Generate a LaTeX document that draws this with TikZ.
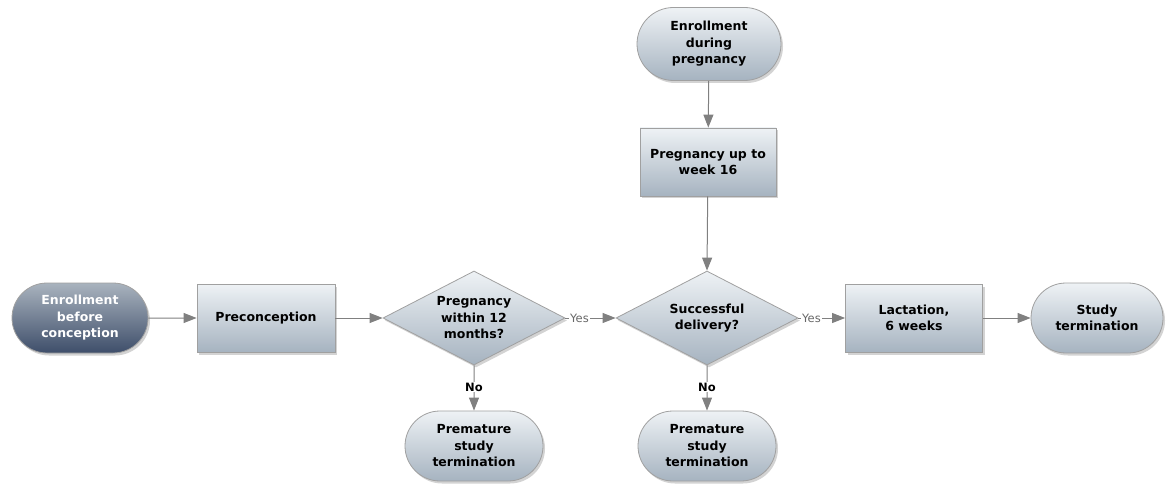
\documentclass[tikz,border=0pt]{standalone}
\usepackage{fontspec}
\setmainfont{DejaVu Sans}
\usetikzlibrary{shapes.geometric,shapes.misc,arrows.meta,shadows,positioning}

\definecolor{lighttop}{HTML}{EEF2F5}
\definecolor{lightbot}{HTML}{A6B3C0}
\definecolor{darktop}{HTML}{A9B3BE}
\definecolor{darkbot}{HTML}{3E4E6A}
\definecolor{edgegray}{HTML}{A0A0A0}
\definecolor{linegray}{HTML}{808080}

\begin{document}
\begin{tikzpicture}[x=1pt,y=-1pt,
    base/.style={draw=edgegray, line width=0.8pt, top color=lighttop, bottom color=lightbot,
        drop shadow={shadow xshift=2pt, shadow yshift=-2.5pt, opacity=0.35},
        font=\fontsize{12.5}{16.5}\selectfont\bfseries, align=center, inner sep=2pt},
    procbox/.style={base, rectangle, minimum width=138pt, minimum height=68pt},
    termbox/.style={base, rounded rectangle, minimum width=142pt, minimum height=70pt},
    decbox/.style={base, diamond, shape aspect=1.94, minimum width=182pt, minimum height=94pt, inner sep=0pt},
    conn/.style={draw=linegray, line width=1pt, -{Triangle[length=13pt,width=10pt]}},
    lbl/.style={fill=white, inner sep=1pt, font=\fontsize{11.5}{13}\selectfont},
  ]
    \useasboundingbox (0,0) rectangle (1170,489);

    % Main row
    \node[termbox, top color=darktop, bottom color=darkbot, text=white,
          minimum width=140pt] (enrpre) at (80,318) {Enrollment\\before\\conception};
    \node[procbox] (precon) at (266,318) {Preconception};
    \node[decbox] (within) at (474,318) {Pregnancy\\within 12\\months?};
    \node[decbox] (deliv) at (707,318) {Successful\\delivery?};
    \node[procbox, minimum width=137pt] (lact) at (914,318) {Lactation,\\6 weeks};
    \node[termbox, minimum width=136pt] (studyend) at (1097,318) {Study\\termination};

    % Upper branch
    \node[termbox, minimum width=148pt, minimum height=73pt] (enrdur) at (709,44) {Enrollment\\during\\pregnancy};
    \node[procbox, minimum width=136pt] (week16) at (708,162) {Pregnancy up to\\week 16};

    % Premature endings
    \node[termbox] (prem1) at (474,446) {Premature\\study\\termination};
    \node[termbox] (prem2) at (707,446) {Premature\\study\\termination};

    % Connectors
    \draw[conn] (enrpre) -- (precon);
    \draw[conn] (precon) -- (within.west);
    \draw[conn] (within.east) -- node[lbl, pos=0.28, text=linegray!80!black] {Yes} (deliv.west);
    \draw[conn] (deliv.east) -- node[lbl, pos=0.28, text=linegray!80!black] {Yes} (lact);
    \draw[conn] (lact) -- (studyend);
    \draw[conn] (enrdur) -- (week16);
    \draw[conn] (week16) -- (deliv.north);
    \draw[conn] (within.south) -- node[lbl, pos=0.48, font=\fontsize{11.5}{13}\selectfont\bfseries] {No} (prem1);
    \draw[conn] (deliv.south) -- node[lbl, pos=0.48, font=\fontsize{11.5}{13}\selectfont\bfseries] {No} (prem2);
\end{tikzpicture}
\end{document}
